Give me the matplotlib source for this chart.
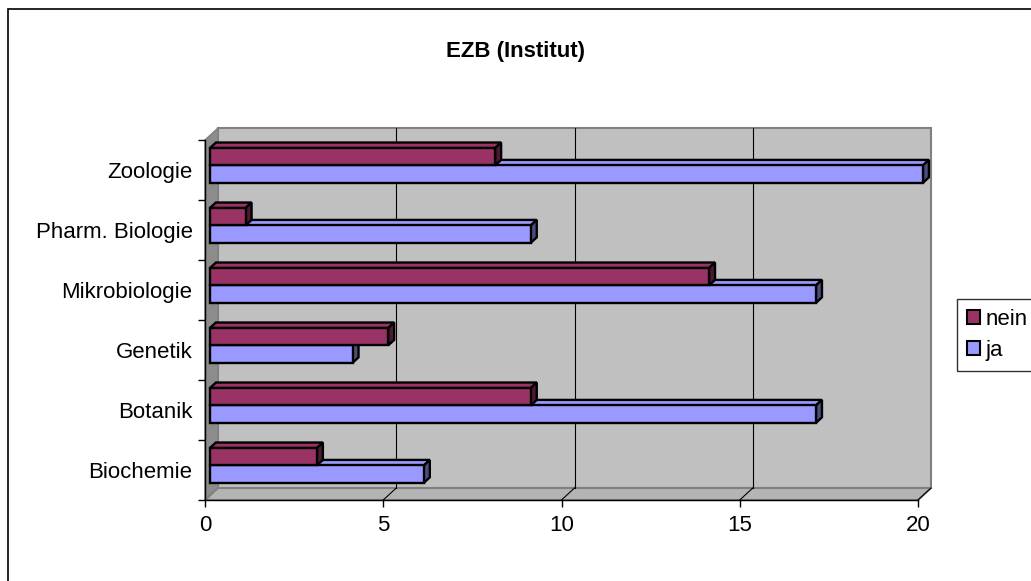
import matplotlib
matplotlib.use("Agg")
import matplotlib.pyplot as plt
from matplotlib.patches import Polygon, Patch, Rectangle
from matplotlib.lines import Line2D

plt.rcParams['font.family'] = ['Liberation Sans', 'DejaVu Sans']

# ---- data ----
title = "EZB (Institut)"
categories = ["Biochemie", "Botanik", "Genetik", "Mikrobiologie", "Pharm. Biologie", "Zoologie"]
nein = [3, 9, 5, 14, 1, 8]
ja = [6, 17, 4, 17, 9, 20]
series_names = ["nein", "ja"]
xticks = [0, 5, 10, 15, 20]

c_nein = "#993366"
c_ja = "#9999FF"
c_nein_side = "#4D1A33"
c_ja_side = "#4D4D80"

W, H = 1031, 581
fig = plt.figure(figsize=(W / 100, H / 100), dpi=100)

# front plane of the 3D box
left_px, right_px, top_px, bot_px = 205, 918, 140, 500
ax = fig.add_axes([left_px / W, (H - bot_px) / H, (right_px - left_px) / W, (bot_px - top_px) / H])
xmax = 20
n = len(categories)
ax.set_xlim(0, xmax)
ax.set_ylim(-0.5, n - 0.5)
ax.patch.set_visible(False)

px_x = (right_px - left_px) / xmax
px_y = (bot_px - top_px) / n
DX = 13 / px_x
DY = 12 / px_y


def P(x, y, d):
    return (x + d * DX, y + d * DY)


def poly(pts, **kw):
    p = Polygon([P(*q) for q in pts], closed=True, clip_on=False, **kw)
    ax.add_patch(p)
    return p


y0, y1 = -0.5, n - 0.5
# walls
poly([(0, y0, 1), (xmax, y0, 1), (xmax, y1, 1), (0, y1, 1)], facecolor="#C0C0C0",
     edgecolor="#808080", lw=1.5, zorder=0)
poly([(0, y0, 0), (0, y1, 0), (0, y1, 1), (0, y0, 1)], facecolor="#8C8C8C",
     edgecolor="#808080", lw=1.0, zorder=0.5)
poly([(0, y0, 0), (xmax, y0, 0), (xmax, y0, 1), (0, y0, 1)], facecolor="#B4B4B4",
     edgecolor="#808080", lw=1.5, zorder=0.5)

# gridlines on back wall + floor
for xv in xticks[1:-1]:
    a = P(xv, y0, 1); b = P(xv, y1, 1)
    ax.add_line(Line2D([a[0], b[0]], [a[1], b[1]], color="black", lw=0.8, zorder=1, clip_on=False))
for xv in xticks[1:]:
    a = P(xv, y0, 0); b = P(xv, y0, 1)
    ax.add_line(Line2D([a[0], b[0]], [a[1], b[1]], color="black", lw=0.8, zorder=1, clip_on=False))

# bars
d0, d1 = 0.38, 0.84
h = 0.29
lw = 1.7
for i in range(n):
    for vals, col, side, sgn in ((ja, c_ja, c_ja_side, -1), (nein, c_nein, c_nein_side, 1)):
        v = vals[i]
        yb = i if sgn > 0 else i - h
        yt = yb + h
        z = 3 + i * 0.01 + (0.005 if sgn > 0 else 0)
        poly([(0, yt, d0), (v, yt, d0), (v, yt, d1), (0, yt, d1)], facecolor=col,
             edgecolor="black", lw=lw, zorder=z, joinstyle="miter")
        poly([(v, yb, d0), (v, yt, d0), (v, yt, d1), (v, yb, d1)], facecolor=side,
             edgecolor="black", lw=lw, zorder=z)
        off = P(0, yb, d0)
        ax.barh(off[1] + h / 2, v, left=off[0], height=h, color=col, edgecolor="black",
                lw=lw, zorder=z + 0.001, clip_on=False)

# axes
for s in ("top", "right"):
    ax.spines[s].set_visible(False)
ax.spines["left"].set_linewidth(1.0)
ax.spines["bottom"].set_linewidth(1.0)
ax.spines["left"].set_zorder(5)
ax.spines["bottom"].set_zorder(5)
ax.set_xticks(xticks)
ax.set_xticklabels([str(t) for t in xticks], fontsize=16)
ax.tick_params(axis="x", direction="out", length=5, width=1, pad=6)
ax.set_yticks([i - 0.5 for i in range(n + 1)])
ax.set_yticklabels([])
ax.set_yticks(list(range(n)), minor=True)
ax.set_yticklabels(categories, minor=True, fontsize=16)
ax.tick_params(axis="y", which="major", direction="out", length=5, width=1)
ax.tick_params(axis="y", which="minor", length=0, pad=9)

# title
fig.text(516 / W, 1 - 52 / H, title, ha="center", va="center", fontsize=16, fontweight="bold")

# legend
handles = [Patch(facecolor=c_nein, edgecolor="black", lw=1.5),
           Patch(facecolor=c_ja, edgecolor="black", lw=1.5)]
leg = fig.legend(handles, series_names, loc="upper left", bbox_to_anchor=(957 / W, 1 - 299 / H),
                 fontsize=16, frameon=True, fancybox=False, shadow=False, borderpad=0.45,
                 handlelength=0.6, handleheight=0.6, handletextpad=0.25, labelspacing=0.45,
                 borderaxespad=0)
leg.get_frame().set_edgecolor("black")
leg.get_frame().set_linewidth(1.0)

# outer chart border
fig.patches.append(Rectangle((8 / W, -0.1), 1.2, 1.1 - 9 / H, transform=fig.transFigure,
                             fill=False, edgecolor="black", lw=1.2))

fig.savefig("out.png", dpi=100)
